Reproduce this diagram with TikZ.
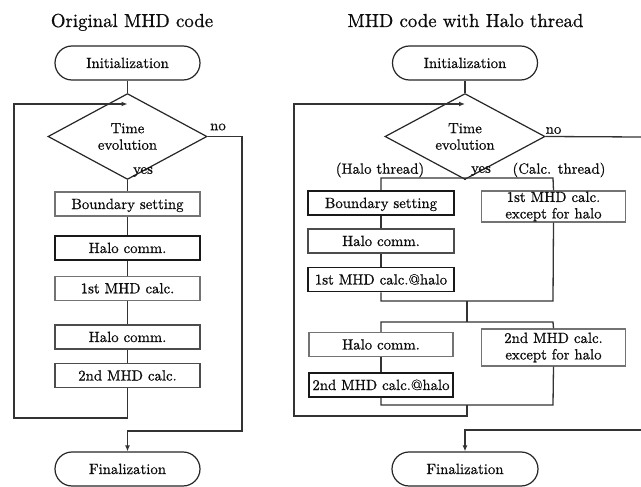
\documentclass[tikz,border=0pt]{standalone}
\usepackage{fontspec}
\setmainfont{lmroman10-regular.otf}[FakeBold=0.7]
\usetikzlibrary{shapes.geometric,arrows.meta}
\begin{document}
\begin{tikzpicture}[x=1pt,y=-1pt,
  every node/.style={text=black!95, font=\fontsize{14.8}{16.5}\selectfont},
  conn/.style={draw=black!80, line width=1.3pt},
  arr/.style={conn, -{Latex[length=6pt,width=5pt]}},
  darkbox/.style={rectangle, draw=black!90, line width=1.7pt, minimum width=145pt,
    minimum height=24pt, inner sep=0pt, text height=10.5pt, text depth=0.5pt},
  midbox/.style={darkbox, draw=black!70, line width=1.5pt},
  lightbox/.style={darkbox, draw=black!55, line width=1.3pt},
  twobox/.style={rectangle, draw=black!55, line width=1.3pt, minimum width=144pt,
    minimum height=31pt, inner sep=0pt, align=center},
  terminal/.style={rectangle, draw=black!85, line width=1.2pt, rounded corners=17pt,
    minimum width=145pt, minimum height=34pt, inner sep=0pt, text height=10.5pt, text depth=0.5pt},
  decision/.style={diamond, draw=black!85, line width=1.2pt, minimum width=159pt,
    minimum height=57pt, inner sep=0pt, align=center},
  lbl/.style={inner sep=0pt},
  heading/.style={anchor=base, font=\fontsize{18.8}{22}\selectfont},
]
\useasboundingbox[fill=white] (0,0) rectangle (641,487);

% ---------------- Original MHD code ----------------
\node[heading] (ltitle) at (132,27) {Original MHD code};
\node[terminal] (linit) at (127.5,63) {Initialization};
\node[decision] (ld) at (127.5,136.5) {Time\\evolution};
\node[lightbox] (lbs) at (127.5,204) {Boundary setting};
\node[darkbox]  (lhc1) at (127.5,248) {Halo comm.};
\node[lightbox] (lm1) at (127.5,288.3) {1st MHD calc.};
\node[midbox]   (lhc2) at (127.5,337) {Halo comm.};
\node[midbox]   (lm2) at (127.5,375.5) {2nd MHD calc.};
\node[terminal] (lfin) at (127.5,469) {Finalization};

\node[lbl] (lno) at (218,127) {no};
\node[lbl] (lyes) at (143,172) {yes};

\coordinate (ljoin) at (127.5,104);
\coordinate (lcorner) at (14,418);
\coordinate (lright) at (242,431);

\draw[conn] (linit.south) -- (ld.north);
\draw[conn] (ld.south) -- (lbs.north);
\draw[conn] (lbs.south) -- (lhc1.north);
\draw[conn] (lhc1.south) -- (lm1.north);
\draw[conn] (lm1.south) -- (lhc2.north);
\draw[conn] (lhc2.south) -- (lm2.north);
\draw[arr] (lm2.south) |- (lcorner) |- (ljoin);
\draw[arr] (ld.east) -| (lright) -| (lfin.north);

% ---------------- MHD code with Halo thread ----------------
\node[heading] (rtitle) at (465.5,27) {MHD code with Halo thread};
\node[terminal] (rinit) at (465,63) {Initialization};
\node[decision, minimum width=160pt] (rd) at (465,136.5) {Time\\evolution};

\node[darkbox, minimum width=146pt] (rbs) at (381,203) {Boundary setting};
\node[midbox, minimum width=146pt] (rhc1) at (381,241) {Halo comm.};
\node[darkbox, minimum width=146pt] (rm1) at (381,279.5) {1st MHD calc.@halo};
\node[twobox] (rex1) at (553.5,206.5) {1st MHD calc.\\except for halo};

\node[lightbox, minimum width=144pt] (rhc2) at (381,344.5) {Halo comm.};
\node[darkbox, minimum width=144pt] (rm2) at (381,385) {2nd MHD calc.@halo};
\node[twobox, minimum height=37pt] (rex2) at (553.5,347.5) {2nd MHD calc.\\except for halo};

\node[terminal, minimum width=146pt] (rfin) at (465,469) {Finalization};

\node[lbl] (rno) at (553.5,130.5) {no};
\node[lbl] (ryes) at (481,171) {yes};
\node[lbl] (rhalo) at (380,170) {(Halo thread)};
\node[lbl] (rcalc) at (559,170) {(Calc. thread)};

\coordinate (rjoin) at (465,104);
\coordinate (rcorner) at (294,416);
\coordinate (rnoend) at (641,137);
\coordinate (rretend) at (641,430);
\coordinate (rs1) at (465,178);
\coordinate (rs1L) at (381,178);
\coordinate (rs1R) at (553,178);
\coordinate (rm1L) at (381,301);
\coordinate (rm1C) at (467,301);
\coordinate (rm1R) at (553,301);
\coordinate (rs2L) at (381,322);
\coordinate (rs2C) at (467,322);
\coordinate (rs2R) at (553,322);
\coordinate (rm2L) at (381,405);
\coordinate (rm2C) at (467,405);
\coordinate (rm2R) at (553,405);

\draw[conn] (rinit.south) -- (rd.north);
\draw[conn] (rd.south) -- (rs1);
\draw[conn] (rbs.north) -- (rs1L) -- (rs1R) -- (rex1.north);
\draw[conn] (rbs.south) -- (rhc1.north);
\draw[conn] (rhc1.south) -- (rm1.north);
\draw[conn] (rm1.south) -- (rm1L) -- (rm1R) -- (rex1.south);
\draw[conn] (rm1C) -- (rs2C);
\draw[conn] (rhc2.north) -- (rs2L) -- (rs2R) -- (rex2.north);
\draw[conn] (rhc2.south) -- (rm2.north);
\draw[conn] (rm2.south) -- (rm2L) -- (rm2R) -- (rex2.south);
\draw[arr] (rm2C) |- (rcorner) |- (rjoin);
\draw[conn] (rd.east) -- (rnoend);
\draw[arr] (rretend) -| (rfin.north);
\end{tikzpicture}
\end{document}
